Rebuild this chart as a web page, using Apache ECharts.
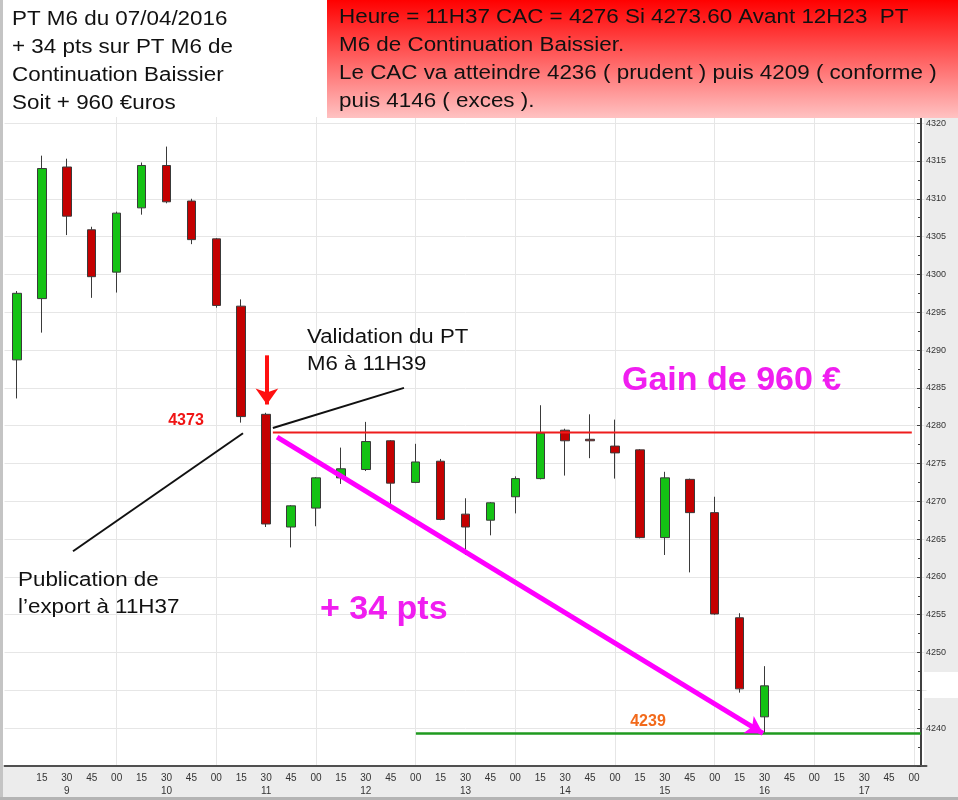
<!DOCTYPE html>
<html><head><meta charset="utf-8">
<script src="https://cdn.jsdelivr.net/npm/echarts@6/dist/echarts.min.js"></script>
<style>html,body{margin:0;padding:0;background:#fff}#c{width:958px;height:800px}</style>
</head><body><div id="c"></div><script>
// ---- data ----
const times = ['9:00','9:15','9:30','9:45','10:00','10:15','10:30','10:45','11:00','11:15','11:30','11:45',
  '12:00','12:15','12:30','12:45','13:00','13:15','13:30','13:45','14:00','14:15','14:30','14:45',
  '15:00','15:15','15:30','15:45','16:00','16:15','16:30','16:45','17:00','17:15','17:30','17:45','18:00'];
const opens  = [4288.7,4296.8,4314.2,4305.9,4300.3,4308.8,4314.4,4309.7,4304.7,4295.8,4281.5,4266.6,4269.1,4273.1,4274.2,4278.0,
  4272.5,4275.3,4268.3,4267.5,4270.6,4273.0,4279.4,4278.2,4277.3,4276.8,4265.2,4272.9,4268.5,4254.6,4241.5];
const closes = [4297.5,4314.0,4307.7,4299.7,4308.1,4314.4,4309.6,4304.6,4295.9,4281.2,4267.0,4269.4,4273.1,4274.3,4277.9,4272.4,
  4275.2,4267.6,4266.6,4269.8,4273.0,4279.0,4278.0,4278.0,4276.4,4265.2,4273.1,4268.5,4255.1,4245.2,4245.6];
const lows   = [4283.6,4292.3,4305.2,4296.9,4297.6,4307.9,4309.4,4304.0,4295.6,4280.4,4266.6,4263.9,4266.7,4272.3,4274.0,4269.6,
  4272.4,4267.5,4262.9,4265.5,4268.4,4272.9,4273.4,4275.7,4273.0,4265.1,4262.9,4260.6,4255.0,4244.7,4239.3];
const highs  = [4297.8,4315.7,4315.3,4306.3,4308.3,4314.8,4316.9,4310.0,4304.8,4296.7,4281.7,4269.5,4273.2,4277.1,4280.5,4278.1,
  4277.6,4275.6,4270.4,4269.9,4273.3,4282.7,4279.6,4281.5,4280.8,4276.9,4273.9,4273.0,4270.6,4255.2,4248.2];
// annotation lines in [slot index, price]
const redLevel = [[10.27, 4279.1], [35.91, 4279.1]];
const greenLevel = [[16.01, 4239.3], [36.27, 4239.3]];
const validationCallout = [[10.27, 4279.7], [15.53, 4285.0]];
const publicationCallout = [[2.25, 4263.4], [9.07, 4279.0]];
const gainArrow = [[10.44, 4278.5], [29.94, 4239.3]];
const signalArrow = [[10.03, 4289.3], [10.03, 4282.8]];
const hiddenYLabels = [4245];

// ---- chart ----
const FONT = '"Liberation Sans", Arial, sans-serif';
const candleData = opens.map((o, i) => [o, closes[i], lows[i], highs[i]]);
const hourIdx = times.map((t, i) => (t.endsWith(':00') && i > 0) ? i : -1).filter(i => i >= 0);
const chart = echarts.init(document.getElementById('c'));

function txt(x, y, text, opts) {
  return Object.assign({type: 'text', x: x, y: y, z: 60, silent: true,
    style: Object.assign({text: text, fontFamily: FONT, fontSize: 20, fill: '#111', verticalAlign: 'top'}, opts.style || {})},
    opts.el || {});
}

chart.setOption({
  animation: false,
  grid: {left: 4.5, right: 31.5, top: 111.8, bottom: 34},
  xAxis: [{
    type: 'category', data: times, boundaryGap: true,
    axisLine: {onZero: false, lineStyle: {color: '#505050', width: 2}},
    axisTick: {alignWithLabel: true, inside: true, length: 3, interval: 0, lineStyle: {color: '#505050'}},
    axisLabel: {interval: 0, fontSize: 10, color: '#333', fontFamily: FONT, margin: 6, lineHeight: 13,
      formatter: (v, i) => { if (i === 0) return ''; const p = v.split(':'); return p[1] === '30' ? p[1] + '\n' + p[0] : p[1]; }},
    splitLine: {show: false}
  }, {type: 'value', min: -0.5, max: 36.5, show: false}],
  yAxis: {
    type: 'value', position: 'right', offset: -5.5, min: 4235, max: 4321.5, interval: 5,
    axisLine: {show: true, onZero: false, lineStyle: {color: '#404040', width: 2}},
    axisTick: {show: true, inside: true, length: 4, lineStyle: {color: '#404040'}},
    minorTick: {show: true, splitNumber: 2, length: 3, lineStyle: {color: '#404040'}},
    axisLabel: {fontSize: 9, color: '#333', fontFamily: FONT, margin: 5, showMinLabel: false, showMaxLabel: false,
      formatter: v => hiddenYLabels.indexOf(v) >= 0 ? '' : String(v)},
    splitLine: {show: true, lineStyle: {color: '#e6e6e6'}}
  },
  series: [
    {type: 'line', xAxisIndex: 1, data: [], z: 1, silent: true,
      markLine: {silent: true, z: 0, symbol: 'none', label: {show: false}, animation: false,
        lineStyle: {color: '#e6e6e6', width: 1, type: 'solid'},
        data: hourIdx.map(i => ({xAxis: i}))}},
    {type: 'candlestick', data: candleData, barWidth: 9, z: 3,
      itemStyle: {color: '#14c214', color0: '#c40000', borderColor: '#3a3a3a', borderColor0: '#3a3a3a', borderWidth: 1}},
    {type: 'line', xAxisIndex: 1, data: redLevel, symbol: 'none', z: 4, lineStyle: {color: '#ee1c1c', width: 2}},
    {type: 'line', xAxisIndex: 1, data: greenLevel, symbol: 'none', z: 4, lineStyle: {color: '#1f9a1f', width: 2.5}},
    {type: 'line', xAxisIndex: 1, data: validationCallout, symbol: 'none', z: 4, lineStyle: {color: '#111', width: 2}},
    {type: 'line', xAxisIndex: 1, data: publicationCallout, symbol: 'none', z: 4, lineStyle: {color: '#111', width: 2}},
    {type: 'line', xAxisIndex: 1, data: [], z: 5, silent: true,
      markLine: {silent: true, animation: false, symbol: ['none', 'arrow'], symbolSize: [15, 17], label: {show: false},
        lineStyle: {color: '#ff00ff', width: 5, type: 'solid'},
        data: [[{coord: gainArrow[0]}, {coord: gainArrow[1]}]]}},
    {type: 'line', xAxisIndex: 1, data: [], z: 5, silent: true,
      markLine: {silent: true, animation: false, symbol: ['none', 'arrow'], symbolSize: [17, 16], label: {show: false},
        lineStyle: {color: '#ff1010', width: 4, type: 'solid'},
        data: [[{coord: signalArrow[0]}, {coord: signalArrow[1]}]]}}
  ],
  graphic: [
    {type: 'rect', z: -1, silent: true, shape: {x: 924, y: 108, width: 34, height: 659}, style: {fill: '#ececec'}},
    {type: 'rect', z: -1, silent: true, shape: {x: 924, y: 672, width: 34, height: 26}, style: {fill: '#ffffff'}},
    {type: 'rect', z: -1, silent: true, shape: {x: 0, y: 767, width: 958, height: 31}, style: {fill: '#ececec'}},
    {type: 'rect', z: 70, silent: true, shape: {x: 0, y: 0, width: 3, height: 800}, style: {fill: '#c4c4c4'}},
    {type: 'rect', z: 70, silent: true, shape: {x: 0, y: 797, width: 958, height: 3}, style: {fill: '#b4b4b4'}},
    {type: 'rect', z: 50, silent: true, shape: {x: 3, y: 0, width: 324, height: 117}, style: {fill: '#ffffff'}},
    {type: 'rect', z: 50, silent: true, shape: {x: 327, y: 0, width: 631, height: 118},
      style: {fill: new echarts.graphic.LinearGradient(0, 0, 0, 1, [{offset: 0, color: '#ff0000'}, {offset: 1, color: '#ffc2c2'}])}},
    txt(12, 5, 'PT M6 du 07/04/2016\n+ 34 pts sur PT M6 de\nContinuation Baissier\nSoit + 960 €uros',
      {style: {lineHeight: 28.2}, el: {scaleX: 1.12}}),
    txt(339, 4, 'Heure = 11H37 CAC = 4276 Si 4273.60 Avant 12H23  PT\nM6 de Continuation Baissier.\nLe CAC va atteindre 4236 ( prudent ) puis 4209 ( conforme )\npuis 4146 ( exces ).',
      {style: {lineHeight: 27.8}, el: {scaleX: 1.12}}),
    txt(307, 323.5, 'Validation du PT\nM6 à 11H39', {style: {lineHeight: 27}, el: {scaleX: 1.11}}),
    txt(18, 566.5, 'Publication de\nl’export à 11H37', {style: {lineHeight: 27}, el: {scaleX: 1.12}}),
    txt(320, 610, '+ 34 pts', {style: {fontSize: 34, fontWeight: 'bold', fill: '#f01ef0', verticalAlign: 'middle'}}),
    txt(622, 381, 'Gain de 960 €', {style: {fontSize: 34, fontWeight: 'bold', fill: '#f01ef0', verticalAlign: 'middle'}}),
    txt(186, 421, '4373', {style: {fontSize: 16, fontWeight: 'bold', fill: '#f01414', align: 'center', verticalAlign: 'middle'}}),
    txt(648, 722, '4239', {style: {fontSize: 16, fontWeight: 'bold', fill: '#f26a1b', align: 'center', verticalAlign: 'middle'}})
  ]
});
</script></body></html>
